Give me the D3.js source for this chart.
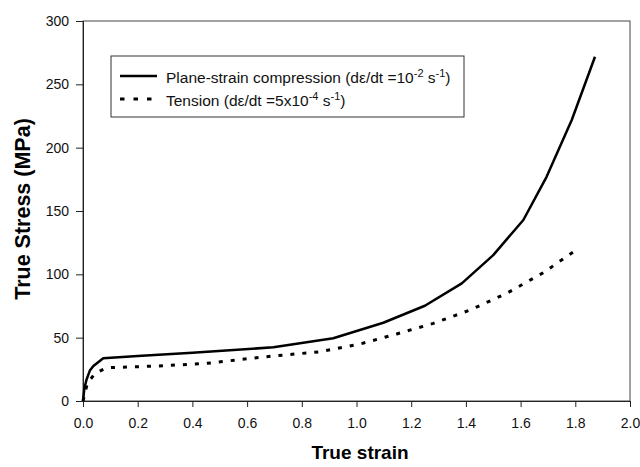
<!DOCTYPE html>
<html>
<head>
<meta charset="utf-8">
<script src="https://cdn.jsdelivr.net/npm/d3@7"></script>
<style>
  body { margin: 0; background: #fff; }
  svg { display: block; font-family: "Liberation Sans", Arial, sans-serif; }
</style>
</head>
<body>
<svg id="chart" width="640" height="467"></svg>
<script>
// values
var compStrain = [0, 0.005, 0.013, 0.025, 0.038, 0.074, 0.2, 0.4, 0.696, 0.915, 1.098, 1.25, 1.385, 1.5, 1.61, 1.695, 1.787, 1.872];
var compStress = [0, 10, 17, 24, 27.6, 33.7, 35.5, 38, 42.4, 49.5, 61.8, 75.2, 92.9, 115.2, 142.9, 177, 221.8, 271.8];
var tensStrain = [0, 0.016, 0.044, 0.087, 0.27, 0.452, 0.647, 0.867, 1.013, 1.147, 1.281, 1.415, 1.549, 1.683, 1.815];
var tensStress = [0, 14, 21.8, 26.3, 27.6, 29.7, 34.5, 38.9, 45, 52.9, 61.3, 71.8, 85, 101.3, 121];
var xTicks = [0, 0.2, 0.4, 0.6, 0.8, 1.0, 1.2, 1.4, 1.6, 1.8, 2.0];
var yTicks = [0, 50, 100, 150, 200, 250, 300];

var svg = d3.select('#chart');
var pl = 83, pr = 630, pt = 21, pb = 401;

var x = d3.scaleLinear().domain([0, 2]).range([pl, pr]);
var y = d3.scaleLinear().domain([0, 300]).range([pb, pt]);

// frame
svg.append('rect')
    .attr('x', pl).attr('y', pt)
    .attr('width', pr - pl).attr('height', pb - pt)
    .attr('fill', 'none').attr('stroke', '#444').attr('stroke-width', 1);

var xAxis = svg.append('g')
    .attr('transform', 'translate(0,' + pb + ')')
    .call(d3.axisBottom(x).tickValues(xTicks).tickFormat(d3.format('.1f')).tickSize(6).tickPadding(11));
var yAxis = svg.append('g')
    .attr('transform', 'translate(' + pl + ',0)')
    .call(d3.axisLeft(y).tickValues(yTicks).tickSize(7).tickPadding(7));

[xAxis, yAxis].forEach(function(a) {
  a.select('.domain').attr('stroke', '#222');
  a.selectAll('.tick line').attr('stroke', '#222');
  a.selectAll('.tick text').attr('font-size', 14).attr('fill', '#111')
      .attr('font-family', '"Liberation Sans", Arial, sans-serif');
});

var line = d3.line()
    .x(function(d) { return x(d[0]); })
    .y(function(d) { return y(d[1]); });

var comp = compStrain.map(function(s, i) { return [s, compStress[i]]; });
var tens = tensStrain.map(function(s, i) { return [s, tensStress[i]]; });

svg.append('path').datum(tens)
    .attr('d', line)
    .attr('fill', 'none').attr('stroke', '#000')
    .attr('stroke-width', 3).attr('stroke-dasharray', '4,8');

svg.append('path').datum(comp)
    .attr('d', line)
    .attr('fill', 'none').attr('stroke', '#000')
    .attr('stroke-width', 2.5).attr('stroke-linejoin', 'round');

// legend
var lg = svg.append('g');
lg.append('rect')
    .attr('x', 111).attr('y', 56).attr('width', 353).attr('height', 61)
    .attr('fill', '#fff').attr('stroke', '#333').attr('stroke-width', 1);
lg.append('line').attr('x1', 120).attr('x2', 157).attr('y1', 76).attr('y2', 76)
    .attr('stroke', '#000').attr('stroke-width', 2.5);
lg.append('line').attr('x1', 120).attr('x2', 152).attr('y1', 99).attr('y2', 99)
    .attr('stroke', '#000').attr('stroke-width', 3).attr('stroke-dasharray', '4.5,9');

function legendText(yPos, parts) {
  var t = lg.append('text').attr('x', 166).attr('y', yPos).attr('font-size', 15.5).attr('fill', '#111');
  parts.forEach(function(p) {
    var ts = t.append('tspan').text(p[0]);
    if (p[1]) ts.attr('font-size', 11).attr('dy', -6);
    if (p[2]) ts.attr('dy', 6);
  });
}
legendText(83, [['Plane-strain compression (d\u03b5/dt =10'], ['-2', true], [' s', false, true], ['-1', true], [')', false, true]]);
legendText(106, [['Tension (d\u03b5/dt =5x10'], ['-4', true], [' s', false, true], ['-1', true], [')', false, true]]);

// axis titles
svg.append('text')
    .attr('x', 360).attr('y', 459)
    .attr('text-anchor', 'middle').attr('font-size', 19).attr('font-weight', 'bold')
    .text('True strain');
svg.append('text')
    .attr('transform', 'translate(30,209) rotate(-90)')
    .attr('text-anchor', 'middle').attr('font-size', 21.5).attr('font-weight', 'bold')
    .text('True Stress (MPa)');
</script>
</body>
</html>
